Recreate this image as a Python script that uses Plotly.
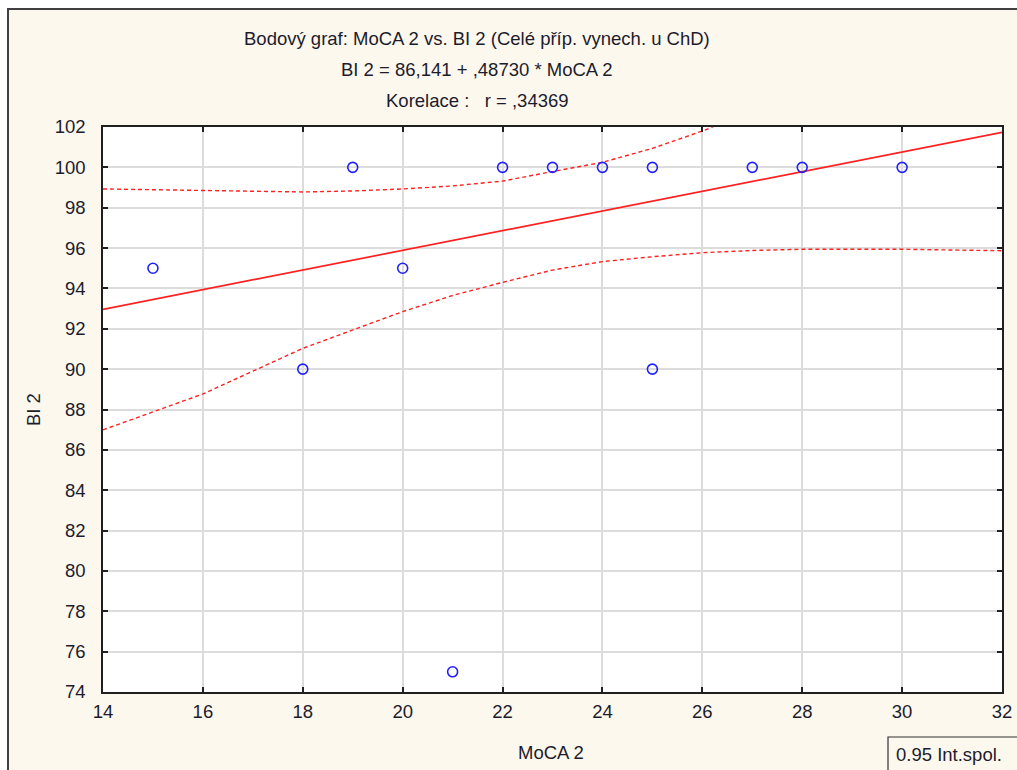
import plotly.graph_objects as go

# ---- data ----
moca = [15, 18, 19, 20, 21, 22, 23, 24, 25, 25, 27, 28, 30]
bi = [95, 90, 100, 95, 75, 100, 100, 100, 100, 90, 100, 100, 100]

intercept = 86.141
slope = 0.48730
reg_x = [14, 32]

band_lower_x = [14, 16, 18, 19, 20, 21, 22, 23, 24, 25, 26, 27, 28, 30, 32]
band_lower_y = [86.99, 88.77, 91.03, 91.94, 92.85, 93.65, 94.30, 94.91, 95.33, 95.57, 95.77, 95.88, 95.94, 95.94, 95.87]
band_upper_x = [14, 16, 18, 19, 20, 21, 22, 23, 24, 25, 26, 26.5]
band_upper_y = [98.93, 98.84, 98.78, 98.83, 98.93, 99.08, 99.32, 99.79, 100.25, 100.94, 101.8, 102.3]

x_ticks = list(range(14, 33, 2))
y_ticks = list(range(74, 103, 2))

title_lines = [
    "Bodový graf: MoCA 2 vs. BI 2 (Celé příp. vynech. u ChD)",
    "BI 2 = 86,141 + ,48730 * MoCA 2",
    "Korelace :   r = ,34369",
]

FONT = "Liberation Sans, Arial, sans-serif"
FS = 18.5
TXT = "#1c1c2c"
RED = "#ff2020"

reg_y = [intercept + slope * v for v in reg_x]

fig = go.Figure()
fig.add_trace(go.Scatter(x=band_lower_x, y=band_lower_y, mode="lines",
                         line=dict(color=RED, width=1.4, dash="4px,3px"), showlegend=False))
fig.add_trace(go.Scatter(x=band_upper_x, y=band_upper_y, mode="lines",
                         line=dict(color=RED, width=1.4, dash="4px,3px"), showlegend=False))
fig.add_trace(go.Scatter(x=reg_x, y=reg_y, mode="lines",
                         line=dict(color=RED, width=1.7), showlegend=False))
fig.add_trace(go.Scatter(x=moca, y=bi, mode="markers",
                         marker=dict(symbol="circle-open", size=10, color="#2020ff",
                                     line=dict(width=1.6, color="#2020ff")),
                         showlegend=False))

L, R, T, B = 103, 15, 127, 78
W, H = 1017, 770
pw, ph = W - L - R, H - T - B


def px(x):
    return (x - L) / pw


def py(y):
    return (H - B - y) / ph


shapes = [
    dict(type="rect", xref="paper", yref="paper", layer="below",
         x0=px(8), y0=-0.3, x1=1.2, y1=py(9),
         fillcolor="#fdf8ee", line=dict(color="#404040", width=2)),
    dict(type="rect", xref="paper", yref="paper", layer="below",
         x0=0, y0=0, x1=1, y1=1, fillcolor="white", line=dict(width=0)),
    dict(type="rect", xref="paper", yref="paper",
         x0=px(888), y0=-0.3, x1=1.2, y1=py(737),
         fillcolor="rgba(0,0,0,0)", line=dict(color="#303030", width=1.2)),
]

annotations = []
for i, t in enumerate(title_lines):
    annotations.append(dict(text=t, xref="paper", yref="paper", x=px(477), y=py([39, 70, 100][i]),
                            xanchor="center", yanchor="middle", showarrow=False,
                            font=dict(family=FONT, size=FS, color=TXT)))
annotations.append(dict(text="MoCA 2", xref="paper", yref="paper", x=px(551), y=py(752),
                        xanchor="center", yanchor="middle", showarrow=False,
                        font=dict(family=FONT, size=FS, color=TXT)))
annotations.append(dict(text="BI 2", xref="paper", yref="paper", x=px(33), y=py(410),
                        xanchor="center", yanchor="middle", showarrow=False, textangle=-90,
                        font=dict(family=FONT, size=FS, color=TXT)))
annotations.append(dict(text="0.95 Int.spol.", xref="paper", yref="paper", x=px(894), y=py(754),
                        xanchor="left", yanchor="middle", showarrow=False,
                        font=dict(family=FONT, size=FS, color=TXT)))

axis_common = dict(showline=True, linecolor="#202020", linewidth=1.5, mirror="ticks",
                   ticks="inside", ticklen=5, tickcolor="#202020", tickwidth=1.5,
                   showgrid=True, gridcolor="#dcdcdc", gridwidth=1.5, zeroline=False,
                   automargin=False,
                   tickfont=dict(family=FONT, size=FS, color=TXT))

fig.update_layout(
    width=W, height=H, autosize=False,
    margin=dict(l=L, r=R, t=T, b=B),
    paper_bgcolor="white", plot_bgcolor="white",
    shapes=shapes, annotations=annotations,
    xaxis=dict(range=[14, 32], tickvals=x_ticks, ticklabelstandoff=2, **axis_common),
    yaxis=dict(range=[74, 102], tickvals=y_ticks, ticklabelstandoff=12, **axis_common),
)

fig.write_html("out.html", config={"displayModeBar": False},
               post_script="document.body.style.margin='0';document.body.style.overflow='hidden';")
